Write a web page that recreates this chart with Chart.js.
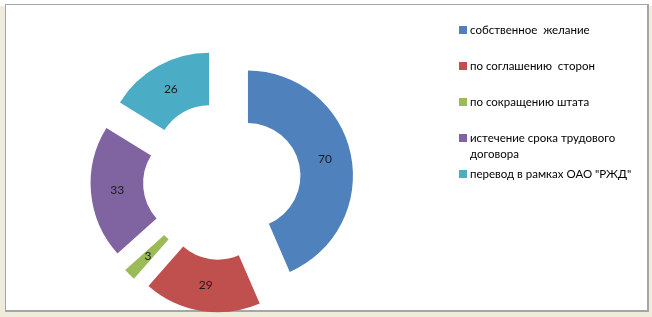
<!DOCTYPE html>
<html>
<head>
<meta charset="utf-8">
<script src="https://cdn.jsdelivr.net/npm/chart.js@4/dist/chart.umd.min.js"></script>
<style>
  html, body { margin: 0; padding: 0; background: #ffffff; }
  body { width: 652px; height: 317px; position: relative; overflow: hidden; }
  #shade { position: absolute; left: 0; top: 6px; width: 652px; height: 311px; background: #efecdc; }
  #frame { position: absolute; left: 5px; top: 4px; width: 641px; height: 305px; border: 1px solid #a6a6a6; border-right-width: 2px; border-bottom-width: 2px; background: #ffffff; }
  canvas { position: absolute; left: 0; top: 0; }
  #legend { position: absolute; left: 459px; top: 0; font-family: Lato, "Open Sans", sans-serif; font-size: 11.5px; color: #000; }
  .item { position: absolute; left: 0; white-space: pre; line-height: 16px; }
  .sw { position: absolute; left: 0; top: 4px; width: 8px; height: 8px; }
  .tx { position: absolute; left: 11px; top: 0; white-space: pre; }
</style>
</head>
<body>
<div id="shade"></div>
<div id="frame"></div>
<canvas id="c" width="652" height="317"></canvas>
<div id="legend"></div>
<script>
const categories = [
  "собственное  желание",
  "по соглашению  сторон",
  "по сокращению штата",
  "истечение срока трудового\nдоговора",
  "перевод в рамках ОАО \"РЖД\""
];
const values = [70, 29, 3, 33, 26];
const colors = ["#4F81BD", "#C0504D", "#9BBB59", "#8064A2", "#4BACC6"];

const explode = 26.5;

function midAngle(p) { return (p.startAngle + p.endAngle) / 2; }

const explodePlugin = {
  id: 'explodeSlices',
  beforeDatasetDraw(chart, args) {
    const ctx = chart.ctx;
    args.meta.data.forEach(arc => {
      const p = arc.getProps(['startAngle', 'endAngle'], true);
      const m = midAngle(p);
      ctx.save();
      ctx.translate(Math.cos(m) * explode, Math.sin(m) * explode);
      arc.draw(ctx, chart.chartArea);
      ctx.restore();
    });
    return false;
  },
  afterDatasetsDraw(chart) {
    const ctx = chart.ctx;
    const meta = chart.getDatasetMeta(0);
    ctx.save();
    ctx.font = '12px Lato, "Open Sans", sans-serif';
    ctx.fillStyle = '#1a1a1a';
    ctx.textAlign = 'center';
    ctx.textBaseline = 'middle';
    meta.data.forEach((arc, i) => {
      const p = arc.getProps(['x', 'y', 'startAngle', 'endAngle', 'innerRadius', 'outerRadius'], true);
      const m = midAngle(p);
      const r = (p.innerRadius + p.outerRadius) / 2 + explode;
      ctx.fillText(String(values[i]), p.x + Math.cos(m) * r, p.y + Math.sin(m) * r);
    });
    ctx.restore();
  }
};

new Chart(document.getElementById('c'), {
  type: 'doughnut',
  data: {
    labels: categories,
    datasets: [{
      data: values,
      backgroundColor: colors,
      borderWidth: 0,
      offset: 0,
      hoverOffset: 0
    }]
  },
  options: {
    responsive: false,
    animation: false,
    cutout: '50%',
    layout: { padding: { left: 117, right: 325, top: 76, bottom: 31 } },
    plugins: {
      legend: { display: false },
      tooltip: { enabled: false }
    }
  },
  plugins: [explodePlugin]
});

const legendTops = [22, 58, 94, 130, 166];
const legend = document.getElementById('legend');
categories.forEach((name, i) => {
  const item = document.createElement('div');
  item.className = 'item';
  item.style.top = legendTops[i] + 'px';
  const sw = document.createElement('div');
  sw.className = 'sw';
  sw.style.background = colors[i];
  const tx = document.createElement('div');
  tx.className = 'tx';
  tx.textContent = name;
  item.appendChild(sw);
  item.appendChild(tx);
  legend.appendChild(item);
});
</script>
</body>
</html>
